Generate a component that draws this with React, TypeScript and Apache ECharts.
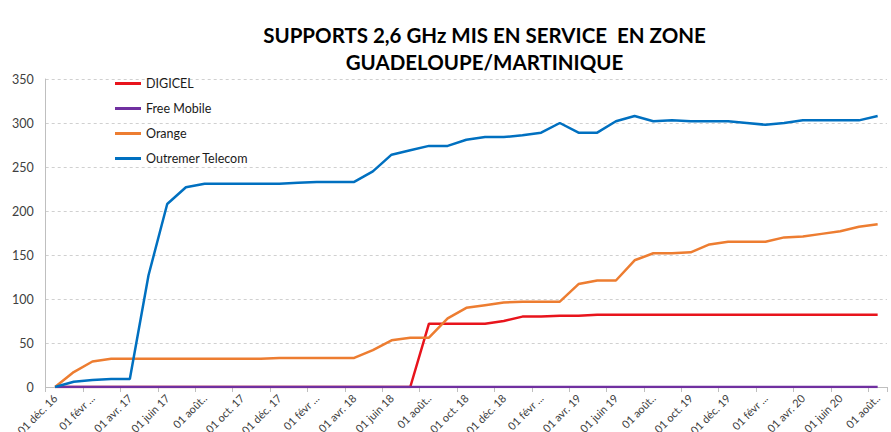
import React, { useEffect, useRef } from "react";
import * as echarts from "echarts";

const months = [
  "01 déc. 16", "01 janv. 17", "01 févr. 17", "01 mars 17", "01 avr. 17", "01 mai 17",
  "01 juin 17", "01 juil. 17", "01 août 17", "01 sept. 17", "01 oct. 17", "01 nov. 17",
  "01 déc. 17", "01 janv. 18", "01 févr. 18", "01 mars 18", "01 avr. 18", "01 mai 18",
  "01 juin 18", "01 juil. 18", "01 août 18", "01 sept. 18", "01 oct. 18", "01 nov. 18",
  "01 déc. 18", "01 janv. 19", "01 févr. 19", "01 mars 19", "01 avr. 19", "01 mai 19",
  "01 juin 19", "01 juil. 19", "01 août 19", "01 sept. 19", "01 oct. 19", "01 nov. 19",
  "01 déc. 19", "01 janv. 20", "01 févr. 20", "01 mars 20", "01 avr. 20", "01 mai 20",
  "01 juin 20", "01 juil. 20", "01 août 20",
];

const digicel = [
  0, 0, 0, 0, 0, 0, 0, 0, 0, 0, 0, 0, 0, 0, 0, 0, 0, 0, 0, 0,
  72, 72, 72, 72, 75, 80, 80, 81, 81, 82, 82, 82, 82, 82, 82, 82,
  82, 82, 82, 82, 82, 82, 82, 82, 82,
];

const freeMobile = [
  0, 0, 0, 0, 0, 0, 0, 0, 0, 0, 0, 0, 0, 0, 0, 0, 0, 0, 0, 0, 0, 0, 0,
  0, 0, 0, 0, 0, 0, 0, 0, 0, 0, 0, 0, 0, 0, 0, 0, 0, 0, 0, 0, 0, 0,
];

const orange = [
  0, 17, 29, 32, 32, 32, 32, 32, 32, 32, 32, 32, 33, 33, 33, 33, 33, 42, 53, 56,
  56, 78, 90, 93, 96, 97, 97, 97, 117, 121, 121, 144, 152, 152, 153, 162, 165,
  165, 165, 170, 171, 174, 177, 182, 185,
];

const outremer = [
  0, 6, 8, 9, 9, 127, 208, 227, 231, 231, 231, 231, 231, 232, 233, 233, 233, 245,
  264, 269, 274, 274, 281, 284, 284, 286, 289, 300, 289, 289, 302, 308, 302, 303,
  302, 302, 302, 300, 298, 300, 303, 303, 303, 303, 308,
];

const seriesNames = ["DIGICEL", "Free Mobile", "Orange", "Outremer Telecom"];
const titleLines = ["SUPPORTS 2,6 GHz MIS EN SERVICE  EN ZONE", "GUADELOUPE/MARTINIQUE"];

const FONT = "Lato, 'Open Sans', sans-serif";

function shortLabel(s: string): string {
  if (s.indexOf("févr") >= 0) return "01 févr ...";
  if (s.indexOf("août") >= 0) return "01 août..";
  return s;
}

export default function App() {
  const ref = useRef<HTMLDivElement>(null);
  useEffect(() => {
    if (!ref.current) return;
    const chart = echarts.init(ref.current, undefined, { renderer: "svg" });
    const colors = ["#E8141C", "#7030A0", "#ED7D31", "#0070C0"];
    const datasets = [digicel, freeMobile, orange, outremer];
    chart.setOption({
      animation: false,
      backgroundColor: "#ffffff",
      color: colors,
      textStyle: { fontFamily: FONT },
      graphic: [
        {
          type: "text",
          x: 484.5,
          y: 35,
          style: {
            text: titleLines[0],
            align: "center",
            verticalAlign: "middle",
            fontFamily: FONT,
            fontWeight: "bold",
            fontSize: 20.5,
            fill: "#000000",
          },
        },
        {
          type: "text",
          x: 484.5,
          y: 62,
          style: {
            text: titleLines[1],
            align: "center",
            verticalAlign: "middle",
            fontFamily: FONT,
            fontWeight: "bold",
            fontSize: 20.5,
            fill: "#000000",
          },
        },
      ],
      legend: {
        orient: "vertical",
        left: 110,
        top: 72,
        itemWidth: 26,
        itemHeight: 3,
        itemGap: 12,
        icon: "rect",
        textStyle: { fontFamily: FONT, fontSize: 12.5, color: "#1a1a1a" },
        data: seriesNames,
      },
      grid: {
        left: 45.7,
        right: 4,
        top: 79,
        bottom: 45,
        containLabel: false,
        outerBoundsMode: "none",
      },
      xAxis: {
        type: "category",
        data: months,
        boundaryGap: true,
        axisLine: { lineStyle: { color: "#bfbfbf", width: 1 } },
        axisTick: { show: true, interval: 1, length: 5, lineStyle: { color: "#bfbfbf" } },
        axisLabel: {
          interval: 1,
          rotate: 45,
          margin: 9,
          fontSize: 11,
          fontFamily: FONT,
          color: "#404040",
          formatter: (v: string) => shortLabel(v),
        },
        splitLine: { show: false },
      },
      yAxis: {
        type: "value",
        min: 0,
        max: 350,
        interval: 50,
        axisLine: { show: true, lineStyle: { color: "#bfbfbf", width: 1 } },
        axisTick: { show: false },
        axisLabel: { fontSize: 12.5, fontFamily: FONT, color: "#404040", margin: 12 },
        splitLine: { show: true, lineStyle: { color: "#d0d0d0", type: [3, 3], width: 1 } },
      },
      series: seriesNames.map((name, i) => ({
        name,
        type: "line",
        data: datasets[i],
        showSymbol: false,
        symbol: "none",
        lineStyle: { width: 2.5, color: colors[i] },
        itemStyle: { color: colors[i] },
        z: 2 + i,
      })),
    });
    return () => chart.dispose();
  }, []);
  return (
    <div
      ref={ref}
      style={{ position: "absolute", left: 0, top: 0, width: 891, height: 432 }}
    />
  );
}
